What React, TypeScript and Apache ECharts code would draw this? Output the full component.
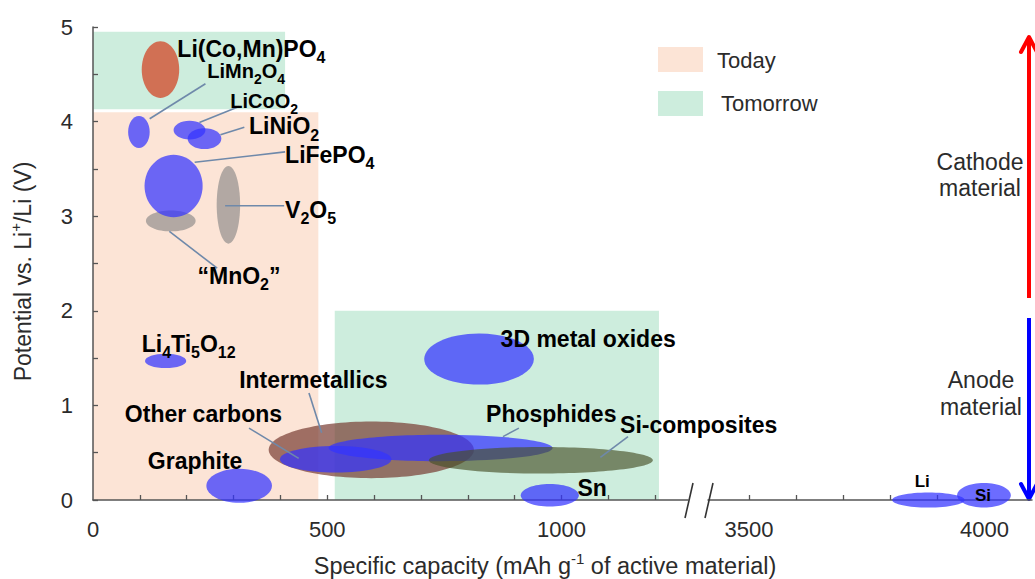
import React, { useEffect, useRef } from 'react';
import * as echarts from 'echarts';

// ---------------- data ----------------
const materialNames = [
  'Li(Co,Mn)PO4', 'LiMn2O4', 'LiCoO2', 'LiNiO2', 'MnO2', 'V2O5', 'LiFePO4',
  'Li4Ti5O12', 'Graphite', 'Intermetallics', 'Phosphides', 'Si-composites',
  'Other carbons', '3D metal oxides', 'Sn', 'Li', 'Si',
];
// centre capacity (mAh/g) and potential (V vs Li+/Li)
const capacityCenter = [144, 98, 206, 238, 166, 289, 172, 155, 312, 594, 742, 956, 518, 824, 975, 3881, 3999];
const potentialCenter = [4.55, 3.89, 3.91, 3.82, 2.95, 3.12, 3.32, 1.47, 0.15, 0.53, 0.55, 0.42, 0.43, 1.49, 0.05, 0.0, 0.05];
// half ranges of the ellipses
const capacityHalfRange = [40, 23, 34, 36, 53, 25, 62, 44, 70, 219, 239, 239, 119, 117, 62, 77, 57];
const potentialHalfRange = [0.3, 0.17, 0.1, 0.11, 0.11, 0.41, 0.33, 0.075, 0.18, 0.3, 0.14, 0.14, 0.14, 0.27, 0.12, 0.08, 0.13];
const materialGroup = ['red', 'blue', 'blue', 'blue', 'gray', 'gray', 'blue', 'blue', 'blue', 'brown', 'blue', 'olive', 'blue', 'blue', 'blue', 'blue', 'blue'];
// 0 = left part of the broken capacity axis, 1 = right part
const axisSegment = [0, 0, 0, 0, 0, 0, 0, 0, 0, 0, 0, 0, 0, 0, 0, 1, 1];

// shaded zones
const zoneNames = ['Today', 'Tomorrow', 'Tomorrow'];
const zoneCapFrom = [0, 0, 516];
const zoneCapTo = [481, 410, 1208];
const zoneVFrom = [0, 4.13, 0];
const zoneVTo = [4.1, 4.95, 2.0];

// ticks
const yTicks = [0, 0.5, 1, 1.5, 2, 2.5, 3, 3.5, 4, 4.5, 5];
const yLabels = [0, 1, 2, 3, 4, 5];
const xTicksLeft = [100, 200, 300, 400, 500, 600, 700, 800, 900, 1000, 1100, 1200];
const xLabelsLeft = [0, 500, 1000];
const xTicksRight = [3500, 3600, 3700, 3800, 3900, 4000];
const xLabelsRight = [3500, 4000];

// annotation texts (rich) and anchors in data space
const labelTexts = [
  'Li(Co,Mn)PO{s|4}', 'LiMn{s|2}O{s|4}', 'LiCoO{s|2}', 'LiNiO{s|2}', 'LiFePO{s|4}', 'V{s|2}O{s|5}',
  '\u201CMnO{s|2}\u201D', 'Li{s|4}Ti{s|5}O{s|12}', 'Intermetallics', 'Other carbons', 'Graphite',
  '3D metal oxides', 'Phosphides', 'Si-composites', 'Sn', 'Li', 'Si',
];
const labelCap = [180, 244, 293, 333, 410, 410, 223, 104, 312, 68, 117, 870, 839, 1125, 1034, 3852, 3980];
const labelV = [4.77, 4.53, 4.22, 3.95, 3.65, 3.07, 2.37, 1.65, 1.27, 0.91, 0.415, 1.7, 0.91, 0.79, 0.13, 0.195, 0.05];
const labelSegment = [0, 0, 0, 0, 0, 0, 0, 0, 0, 0, 0, 0, 0, 0, 0, 1, 1];
// 0 = normal, 1 = compact, 2 = small
const labelScale = [0, 1, 1, 0, 0, 0, 0, 0, 0, 0, 0, 0, 0, 0, 0, 2, 2];

// leader lines [cap1, v1, cap2, v2]
const leaderCapFrom = [121, 227, 272, 217, 282, 163, 461, 333, 909, 1142];
const leaderVFrom = [4.03, 3.99, 3.86, 3.57, 3.11, 2.84, 1.13, 0.76, 0.76, 0.67];
const leaderCapTo = [240, 312, 323, 410, 408, 265, 488, 439, 875, 1083];
const leaderVTo = [4.4, 4.16, 3.94, 3.68, 3.11, 2.45, 0.71, 0.44, 0.67, 0.45];

// ---------------- styles ----------------
const FONT = '"Liberation Sans", Arial, Helvetica, sans-serif';
const groupColors: Record<string, string> = {
  red: 'rgba(210,80,50,0.8)',
  blue: 'rgba(51,51,255,0.72)',
  gray: 'rgba(128,128,128,0.6)',
  brown: 'rgba(120,60,50,0.7)',
  olive: 'rgba(70,80,40,0.65)',
};
const zoneColors: Record<string, string> = { Today: '#FCE4D6', Tomorrow: '#CDEDDD' };
const AXIS_COLOR = '#555';
const TEXT_COLOR = '#2b2b2b';
const LABEL_FONT = [
  { size: 23, sub: 16, lh: 24 },
  { size: 20, sub: 14, lh: 22 },
  { size: 17, sub: 12, lh: 18 },
];

function buildOption() {
  const ellipseData = (seg: number) =>
    materialNames
      .map((_, i) => [capacityCenter[i], potentialCenter[i], capacityHalfRange[i], potentialHalfRange[i], i])
      .filter((_, i) => axisSegment[i] === seg);

  const ellipseSeries = (seg: number) => ({
    type: 'custom',
    name: 'materials' + seg,
    xAxisIndex: seg,
    yAxisIndex: seg,
    z: 4,
    clip: false,
    encode: { x: 0, y: 1 },
    data: ellipseData(seg),
    renderItem: (params: any, api: any) => {
      const c = api.coord([api.value(0), api.value(1)]);
      const s = api.size([api.value(2), api.value(3)]);
      const idx = api.value(4);
      return {
        type: 'ellipse',
        shape: { cx: c[0], cy: c[1], rx: s[0], ry: s[1] },
        style: { fill: groupColors[materialGroup[idx]] },
      };
    },
  });

  const zoneSeries = (name: string) => ({
    type: 'custom',
    name,
    xAxisIndex: 0,
    yAxisIndex: 0,
    z: 1,
    clip: false,
    encode: { x: [0, 1], y: [2, 3] },
    data: zoneNames
      .map((n, i) => ({ n, v: [zoneCapFrom[i], zoneCapTo[i], zoneVFrom[i], zoneVTo[i]] }))
      .filter((d) => d.n === name)
      .map((d) => d.v),
    renderItem: (params: any, api: any) => {
      const p0 = api.coord([api.value(0), api.value(3)]);
      const p1 = api.coord([api.value(1), api.value(2)]);
      return {
        type: 'rect',
        shape: { x: p0[0], y: p0[1], width: p1[0] - p0[0], height: p1[1] - p0[1] },
        style: { fill: zoneColors[name] },
      };
    },
  });

  const labelSeries = (seg: number) => ({
    type: 'custom',
    name: 'labels' + seg,
    xAxisIndex: seg,
    yAxisIndex: seg,
    z: 6,
    clip: false,
    encode: { x: 0, y: 1 },
    data: labelTexts.map((_, i) => [labelCap[i], labelV[i], i]).filter((_, i) => labelSegment[i] === seg),
    renderItem: (params: any, api: any) => {
      const idx = api.value(2);
      const p = api.coord([api.value(0), api.value(1)]);
      const f = LABEL_FONT[labelScale[idx]];
      return {
        type: 'text',
        x: p[0],
        y: p[1],
        style: {
          text: labelTexts[idx],
          fontSize: f.size,
          fontWeight: 'bold',
          fontFamily: FONT,
          fill: '#000',
          lineHeight: f.lh,
          align: 'left',
          verticalAlign: 'middle',
          rich: {
            s: { fontSize: f.sub, fontWeight: 'bold', fontFamily: FONT, fill: '#000', height: 6, verticalAlign: 'bottom' },
          },
        },
      };
    },
  });

  const leaderSeries = {
    type: 'custom',
    name: 'leaders',
    xAxisIndex: 0,
    yAxisIndex: 0,
    z: 5,
    clip: false,
    encode: { x: [0, 2], y: [1, 3] },
    data: leaderCapFrom.map((_, i) => [leaderCapFrom[i], leaderVFrom[i], leaderCapTo[i], leaderVTo[i]]),
    renderItem: (params: any, api: any) => {
      const a = api.coord([api.value(0), api.value(1)]);
      const b = api.coord([api.value(2), api.value(3)]);
      return {
        type: 'line',
        shape: { x1: a[0], y1: a[1], x2: b[0], y2: b[1] },
        style: { stroke: '#6f89aa', lineWidth: 1.6 },
      };
    },
  };

  const axisLine = { show: true, lineStyle: { color: AXIS_COLOR, width: 1.5 } };
  const axisTick = (vals: number[]) => ({
    show: true,
    inside: true,
    length: 5,
    customValues: vals,
    lineStyle: { color: AXIS_COLOR, width: 1.3 },
  });
  const axisLabel = (vals: number[], margin: number) => ({
    show: true,
    customValues: vals,
    formatter: (v: number) => String(v),
    fontSize: 22,
    fontFamily: FONT,
    color: TEXT_COLOR,
    margin,
  });

  return {
    animation: false,
    backgroundColor: '#fff',
    grid: [
      { left: 90, top: 27, width: 598, height: 473 },
      { left: 708, top: 27, width: 324, height: 473 },
    ],
    xAxis: [
      {
        type: 'value', gridIndex: 0, min: 0, max: 1270, z: 3,
        axisLine, axisTick: axisTick(xTicksLeft), axisLabel: axisLabel(xLabelsLeft, 18),
        splitLine: { show: false },
      },
      {
        type: 'value', gridIndex: 1, min: 3413, max: 4101, z: 3,
        axisLine, axisTick: axisTick(xTicksRight), axisLabel: axisLabel(xLabelsRight, 18),
        splitLine: { show: false },
      },
    ],
    yAxis: [
      {
        type: 'value', gridIndex: 0, min: 0, max: 5, z: 3,
        axisLine, axisTick: axisTick(yTicks), axisLabel: axisLabel(yLabels, 20),
        splitLine: { show: false },
        name: 'Potential vs. Li{sup|+}/Li (V)',
        nameLocation: 'middle',
        nameGap: 55,
        nameTextStyle: {
          fontSize: 23, fontFamily: FONT, color: TEXT_COLOR, lineHeight: 30,
          padding: [0, 16, 0, 0],
          rich: { sup: { fontSize: 15, fontFamily: FONT, color: TEXT_COLOR, lineHeight: 12, verticalAlign: 'top' } },
        },
      },
      {
        type: 'value', gridIndex: 1, min: 0, max: 5, show: false,
      },
    ],
    series: [
      zoneSeries('Today'),
      zoneSeries('Tomorrow'),
      ellipseSeries(0),
      ellipseSeries(1),
      leaderSeries,
      labelSeries(0),
      labelSeries(1),
    ],
    graphic: [
      // axis break marks
      { type: 'line', shape: { x1: 693, y1: 483, x2: 685, y2: 518 }, style: { stroke: '#333', lineWidth: 1.6 }, z: 10 },
      { type: 'line', shape: { x1: 713, y1: 483, x2: 705, y2: 518 }, style: { stroke: '#333', lineWidth: 1.6 }, z: 10 },
      // legend
      { type: 'rect', shape: { x: 658, y: 47, width: 45, height: 25 }, style: { fill: zoneColors.Today } },
      { type: 'rect', shape: { x: 658, y: 91, width: 45, height: 25 }, style: { fill: zoneColors.Tomorrow } },
      { type: 'text', x: 717, y: 60, style: { text: 'Today', fontSize: 22, fontFamily: FONT, fill: TEXT_COLOR, verticalAlign: 'middle' } },
      { type: 'text', x: 721, y: 103, style: { text: 'Tomorrow', fontSize: 22, fontFamily: FONT, fill: TEXT_COLOR, verticalAlign: 'middle' } },
      // cathode / anode arrows
      { type: 'polyline', shape: { points: [[1029, 298], [1029, 38]] }, style: { stroke: '#ff0000', lineWidth: 4 } },
      { type: 'polyline', shape: { points: [[1021, 52], [1029, 37], [1037, 52]] }, style: { stroke: '#ff0000', lineWidth: 4, fill: null, lineCap: 'round', lineJoin: 'round' } },
      { type: 'polyline', shape: { points: [[1029, 318], [1029, 497]] }, style: { stroke: '#0000ff', lineWidth: 4 } },
      { type: 'polyline', shape: { points: [[1021, 484], [1029, 499], [1037, 484]] }, style: { stroke: '#0000ff', lineWidth: 4, fill: null, lineCap: 'round', lineJoin: 'round' } },
      { type: 'text', x: 980, y: 175, style: { text: 'Cathode\nmaterial', fontSize: 23, lineHeight: 26, fontFamily: FONT, fill: TEXT_COLOR, align: 'center', verticalAlign: 'middle' } },
      { type: 'text', x: 981, y: 393, style: { text: 'Anode\nmaterial', fontSize: 23, lineHeight: 27, fontFamily: FONT, fill: TEXT_COLOR, align: 'center', verticalAlign: 'middle' } },
      // x axis title
      {
        type: 'text', x: 545, y: 566,
        style: {
          text: 'Specific capacity (mAh g{sup|-1} of active material)',
          fontSize: 23.5, fontFamily: FONT, fill: TEXT_COLOR, lineHeight: 30,
          align: 'center', verticalAlign: 'middle',
          rich: { sup: { fontSize: 15, fontFamily: FONT, fill: TEXT_COLOR, lineHeight: 12, verticalAlign: 'top' } },
        },
      },
    ],
  };
}

export default function App() {
  const ref = useRef<HTMLDivElement>(null);
  useEffect(() => {
    if (!ref.current) return;
    const chart = echarts.init(ref.current, undefined, { renderer: 'svg' });
    chart.setOption(buildOption() as any);
    return () => chart.dispose();
  }, []);
  return (
    <div
      ref={ref}
      style={{ position: 'absolute', left: 0, top: 0, width: 1035, height: 579, background: '#fff' }}
    />
  );
}
